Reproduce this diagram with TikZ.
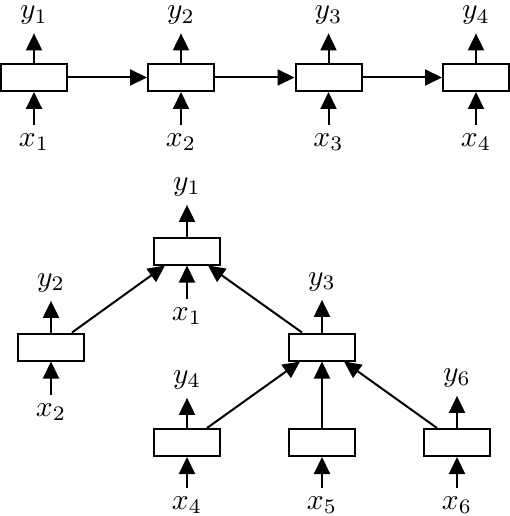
\documentclass[tikz,border=0pt]{standalone}
\usetikzlibrary{arrows.meta}
\begin{document}
\begin{tikzpicture}[x=1pt,y=-1pt,
  cell/.style={draw, line width=2pt, minimum width=66pt, minimum height=27pt, inner sep=0pt},
  lbl/.style={scale=2.95, inner sep=0pt, text height=4.3pt, text depth=2pt},
  arr/.style={line width=2pt, -{Triangle[length=17pt,width=16pt]}},
  inarr/.style={arr, shorten <=8pt},
  outarr/.style={arr, shorten >=8pt}]
\useasboundingbox (0,0) rectangle (510,516);
% top chain
\foreach \i/\cx in {1/34,2/181,3/328.5,4/476}{
  \node[cell] (b\i) at (\cx,77.5) {};
  \node[lbl] (y\i) at (\cx,15.5) {$y_{\i}$};
  \node[lbl] (x\i) at (\cx,143) {$x_{\i}$};
  \draw[inarr] (x\i) -- (b\i);
  \draw[outarr] (b\i) -- (y\i);
}
\draw[arr] (b1) -- (b2);
\draw[arr] (b2) -- (b3);
\draw[arr] (b3) -- (b4);
% tree
\node[cell] (t1) at (187,251) {};
\node[cell] (t2) at (51,347) {};
\node[cell] (t3) at (322,347) {};
\node[cell] (t4) at (187,442.5) {};
\node[cell] (t5) at (322,442.5) {};
\node[cell] (t6) at (457,442.5) {};
\node[lbl] (ty1) at (187,187) {$y_1$};
\node[lbl] (tx1) at (187,317) {$x_1$};
\node[lbl] (ty2) at (51,283) {$y_2$};
\node[lbl] (tx2) at (51,413) {$x_2$};
\node[lbl] (ty3) at (322,282) {$y_3$};
\node[lbl] (ty4) at (187,380) {$y_4$};
\node[lbl] (tx4) at (187,506) {$x_4$};
\node[lbl] (tx5) at (322,506) {$x_5$};
\node[lbl] (ty6) at (457,378) {$y_6$};
\node[lbl] (tx6) at (457,506) {$x_6$};
\draw[inarr] (tx1) -- (t1);
\draw[outarr] (t1) -- (ty1);
\draw[inarr] (tx2) -- (t2);
\draw[outarr] (t2) -- (ty2);
\draw[outarr] (t3) -- (ty3);
\draw[inarr] (tx4) -- (t4);
\draw[outarr] (t4) -- (ty4);
\draw[inarr] (tx5) -- (t5);
\draw[inarr] (tx6) -- (t6);
\draw[outarr] (t6) -- (ty6);
\draw[arr] ([xshift=21pt]t2.north) -- ([xshift=-22pt]t1.south);
\draw[arr] ([xshift=-20pt]t3.north) -- ([xshift=21pt]t1.south);
\draw[arr] ([xshift=20pt]t4.north) -- ([xshift=-22pt]t3.south);
\draw[arr] (t5) -- (t3);
\draw[arr] ([xshift=-20pt]t6.north) -- ([xshift=22pt]t3.south);
\end{tikzpicture}
\end{document}
